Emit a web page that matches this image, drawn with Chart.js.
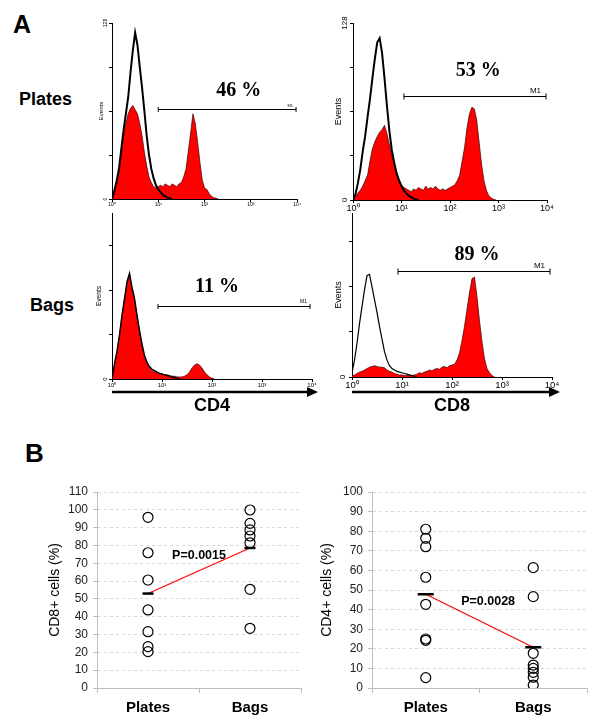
<!DOCTYPE html>
<html>
<head>
<meta charset="utf-8">
<script src="https://cdn.jsdelivr.net/npm/chart.js@4.4.1/dist/chart.umd.min.js"></script>
<style>
  body { margin: 0; background: #fff; }
  #page { position: relative; width: 600px; height: 728px; overflow: hidden; font-family: "Liberation Sans", Arial, sans-serif; }
  canvas { position: absolute; }
  .lbl { position: absolute; font-weight: bold; line-height: 1; color: #000; white-space: nowrap; }
</style>
</head>
<body>
<div id="page">
  <div class="lbl" style="left:13px;top:12px;font-size:25px">A</div>
  <div class="lbl" style="left:19px;top:90px;font-size:18px">Plates</div>
  <div class="lbl" style="left:30px;top:296px;font-size:18px">Bags</div>
  <div class="lbl" style="left:25px;top:440px;font-size:26px">B</div>

  <canvas id="cd4PlatesChart" width="250" height="210" style="left:60px;top:5px"></canvas>
  <canvas id="cd8PlatesChart" width="300" height="215" style="left:300px;top:5px"></canvas>
  <canvas id="cd4BagsChart" width="270" height="215" style="left:60px;top:205px"></canvas>
  <canvas id="cd8BagsChart" width="300" height="215" style="left:300px;top:205px"></canvas>

  <canvas id="cd8PctChart" width="310" height="258" style="left:0px;top:470px"></canvas>
  <canvas id="cd4PctChart" width="300" height="258" style="left:300px;top:470px"></canvas>
</div>

<script>
// ---- panel A: histogram counts, one value per 0.05 decade starting at 10^0 ----
const binStep = 0.05;
const decadeLabels = ['10\u2070', '10\u00b9', '10\u00b2', '10\u00b3', '10\u2074'];

const cd4PlatesCtrl = [0,6,13,22,36,50,62,74,92,108,121,112,96,81,64,46,32,22,15,10,7,5,3,2,1,0.5,0];
const cd4PlatesStain = [0,5,12,20,33,46,55,62,66,68,65,62,55,46,34,24,16,12,9,8,9,10,9,11,10,9,11,10,9,11,12,16,22,35,48,62,55,42,27,14,8,7,4,2,1,0.5,0];

const cd8PlatesCtrl = [0,4,12,22,35,46,60,73,88,102,114,117,106,88,68,50,36,27,19,14,10,7,5,3,2,1,0.5,0];
const cd8PlatesStain = [0,2,5,7,10,14,18,28,37,42,46,49,51,54,48,40,32,26,20,15,11,9,8,7,6,8,7,9,8,7,10,8,9,8,10,8,7,8,7,8,9,10,11,14,18,28,38,52,62,67,66,58,42,26,14,7,3,1.5,0.5,0];

const cd4BagsCtrl = [0,11,20,32,46,58,70,76,66,58,46,35,25,17,12,9,7,6,5,4,3.5,3,2.5,2,1.5,1,0.5,0];
const cd4BagsStain = [0,10,19,31,45,57,68,75,64,57,45,34,24,16,11,8,6,5,5,4,4,3,3,2.5,2,2,1.5,1.5,1.5,2,3,5,8,10,11,10,8,5,3,1.5,0.5,0];

const cd8BagsCtrl = [3,12,24,38,50,62,72,73,64,55,46,36,27,18,12,8,6,5,4,3.5,3,2.5,2,1.5,1,0.5,0];
const cd8BagsStain = [0.5,1.5,2.5,3.5,4,5,6,7,7.5,8,7.5,7,7,6.5,5,4,3.5,2.5,2,1.5,1.5,1,1,1,1,1.5,2,3,2.5,3.5,4,5,4.5,5.5,6,5.5,7,7.5,6.5,8,8.5,9,12,17,26,36,48,60,70,71,57,40,25,13,6,3,1,0];

const gatePercents = ['46 %', '53 %', '11 %', '89 %'];

// ---- panel B: percentages per donor ----
const categories = ['Plates', 'Bags'];
const cd8PlatesPct = [95.8, 75.9, 60.6, 43.8, 31.6, 23.2, 20.4];
const cd8BagsPct = [99.9, 92.4, 88.7, 85.3, 81.5, 55.4, 33.5];
const cd8Means = [53, 78.6];
const cd4PlatesPct = [81, 76.4, 72.1, 56.5, 42.7, 25, 24.3, 5.3];
const cd4BagsPct = [61.4, 46.6, 17.7, 11.7, 10, 8, 5.5, 1.5];
const cd4Means = [47.8, 20.8];
const pValues = ['P=0.0015', 'P=0.0028'];

Chart.defaults.font.family = '"Liberation Sans", Arial, sans-serif';
Chart.defaults.color = '#000';

function toBins(arr) {
  return arr.map((v, i) => ({ x: i * binStep, y: v }));
}

// M1 gate bar, percent text, rotated y end labels and the axis arrow
const gatePlugin = {
  id: 'gate',
  afterDatasetsDraw(chart, args, o) {
    const { ctx, chartArea: a, scales: { x, y } } = chart;
    ctx.save();
    ctx.fillStyle = '#000';
    ctx.strokeStyle = '#000';

    ctx.font = o.yLabelFont;
    o.yLabels.forEach(v => {
      ctx.save();
      ctx.translate(a.left - o.yLabelGap, y.getPixelForValue(v));
      ctx.rotate(-Math.PI / 2);
      ctx.textAlign = 'center';
      ctx.textBaseline = 'bottom';
      ctx.fillText(String(v), 0, 0);
      ctx.restore();
    });

    const x1 = x.getPixelForValue(o.from);
    const x2 = x.getPixelForValue(o.to);
    const yy = Math.round(y.getPixelForValue(o.level)) + 0.5;
    ctx.lineWidth = 1;
    ctx.beginPath();
    ctx.moveTo(x1, yy); ctx.lineTo(x2, yy);
    ctx.moveTo(x1, yy - o.cap); ctx.lineTo(x1, yy + o.cap);
    ctx.moveTo(x2, yy - o.cap); ctx.lineTo(x2, yy + o.cap);
    ctx.stroke();

    ctx.font = o.m1Font;
    ctx.textAlign = 'right';
    ctx.textBaseline = 'bottom';
    ctx.fillText('M1', x2 - o.m1Inset, yy - 2);

    ctx.font = 'bold 20px "Liberation Serif", "Times New Roman", serif';
    ctx.textAlign = 'center';
    ctx.textBaseline = 'middle';
    ctx.fillText(o.pct, x.getPixelForValue(o.pctAt[0]), y.getPixelForValue(o.pctAt[1]));

    if (o.arrow) {
      const ay = a.bottom + o.arrow.dy;
      const tip = a.right + o.arrow.ext;
      ctx.lineWidth = 2.5;
      ctx.beginPath();
      ctx.moveTo(a.left, ay);
      ctx.lineTo(tip - 8, ay);
      ctx.stroke();
      ctx.beginPath();
      ctx.moveTo(tip, ay);
      ctx.lineTo(tip - 11, ay - 5);
      ctx.lineTo(tip - 11, ay + 5);
      ctx.closePath();
      ctx.fill();
    }
    ctx.restore();
  }
};

function histChart(id, ctrl, stain, cfg) {
  return new Chart(document.getElementById(id), {
    type: 'line',
    data: {
      datasets: [
        { data: toBins(ctrl), borderColor: '#000', borderWidth: cfg.ctrlWidth, fill: false, pointRadius: 0, tension: 0 },
        { data: toBins(stain), borderColor: '#3a0000', borderWidth: 0.7, backgroundColor: '#ff0000', fill: 'origin', pointRadius: 0, tension: 0 }
      ]
    },
    options: {
      responsive: false,
      animation: false,
      events: [],
      layout: { padding: cfg.pad },
      plugins: { legend: { display: false }, tooltip: { enabled: false }, gate: cfg.gate },
      scales: {
        x: {
          type: 'linear', min: 0, max: 4,
          afterFit: s => { s.height = cfg.xH; },
          ticks: { stepSize: 1, padding: 0, maxRotation: 0, font: { size: cfg.tickSize }, color: '#000', callback: v => decadeLabels[v] },
          grid: { drawOnChartArea: false, tickLength: 3, color: '#000' },
          border: { color: '#000', width: 1 },
          title: cfg.xTitle
            ? { display: true, text: cfg.xTitle, font: { size: 18, weight: 'bold' }, color: '#000', padding: { top: 0, bottom: cfg.xTitlePad } }
            : { display: false }
        },
        y: {
          min: 0, max: cfg.yMax,
          afterFit: s => { s.width = cfg.yW; },
          ticks: { stepSize: 32, display: false, includeBounds: false },
          grid: { drawOnChartArea: false, tickLength: 3, color: '#000' },
          border: { color: '#000', width: 1 },
          title: { display: true, text: 'Events', font: { size: cfg.evSize }, color: '#000', padding: { top: cfg.evPad, bottom: 0 } }
        }
      }
    },
    plugins: [gatePlugin]
  });
}

histChart('cd4PlatesChart', cd4PlatesCtrl, cd4PlatesStain, {
  pad: { left: 36, top: 18, right: 13, bottom: 4 }, xH: 12, yW: 16, yMax: 128,
  tickSize: 5, evSize: 6, evPad: 2, ctrlWidth: 2,
  gate: { from: 1.0, to: 3.98, level: 65.5, cap: 2.5, m1Font: '4px "Liberation Sans"', m1Inset: 3,
          pct: gatePercents[0], pctAt: [2.74, 78.5], yLabels: [0, 128], yLabelFont: '5px "Liberation Sans"', yLabelGap: 4 }
});

histChart('cd8PlatesChart', cd8PlatesCtrl, cd8PlatesStain, {
  pad: { left: 30, top: 18, right: 53, bottom: 2 }, xH: 18, yW: 23, yMax: 128,
  tickSize: 9, evSize: 9, evPad: 3, ctrlWidth: 2,
  gate: { from: 1.05, to: 3.98, level: 75.2, cap: 3, m1Font: '8px "Liberation Sans"', m1Inset: 5,
          pct: gatePercents[1], pctAt: [2.58, 93.3], yLabels: [0, 128], yLabelFont: '8px "Liberation Sans"', yLabelGap: 4 }
});

histChart('cd4BagsChart', cd4BagsCtrl, cd4BagsStain, {
  pad: { left: 33, top: 8, right: 18, bottom: 0 }, xH: 41, yW: 19, yMax: 119.4,
  tickSize: 6, evSize: 6.5, evPad: 2, ctrlWidth: 1.4, xTitle: 'CD4', xTitlePad: 3,
  gate: { from: 0.92, to: 3.96, level: 52.5, cap: 2.5, m1Font: '5px "Liberation Sans"', m1Inset: 3,
          pct: gatePercents[2], pctAt: [2.1, 66], yLabels: [0], yLabelFont: '6px "Liberation Sans"', yLabelGap: 4,
          arrow: { dy: 13, ext: 6 } }
});

histChart('cd8BagsChart', cd8BagsCtrl, cd8BagsStain, {
  pad: { left: 30, top: 8, right: 48, bottom: 0 }, xH: 43, yW: 22, yMax: 116.6,
  tickSize: 9.5, evSize: 9, evPad: 3, ctrlWidth: 1.2, xTitle: 'CD8', xTitlePad: 3,
  gate: { from: 0.92, to: 3.96, level: 75.4, cap: 3, m1Font: '8px "Liberation Sans"', m1Inset: 5,
          pct: gatePercents[3], pctAt: [2.5, 86.8], yLabels: [0], yLabelFont: '8px "Liberation Sans"', yLabelGap: 5,
          arrow: { dy: 15, ext: 8 } }
});

// p value text between the two groups
const pLabelPlugin = {
  id: 'pLabel',
  afterDatasetsDraw(chart, args, o) {
    const { ctx, scales: { x, y } } = chart;
    ctx.save();
    ctx.font = 'bold 12.5px "Liberation Sans", Arial, sans-serif';
    ctx.fillStyle = '#000';
    ctx.textAlign = 'center';
    ctx.textBaseline = 'middle';
    ctx.fillText(o.text, x.getPixelForValue(o.at[0]), y.getPixelForValue(o.at[1]));
    ctx.restore();
  }
};

function pctChart(id, platesVals, bagsVals, means, cfg) {
  const pts = (cat, vals) => vals.map(v => ({ x: cat, y: v }));
  const meanPts = [{ x: categories[0], y: means[0] }, { x: categories[1], y: means[1] }];
  return new Chart(document.getElementById(id), {
    type: 'scatter',
    data: {
      datasets: [
        { data: meanPts, pointStyle: 'line', pointRadius: cfg.barHalf, borderColor: '#000', pointBorderWidth: 2.5, showLine: false },
        { data: meanPts, showLine: true, borderColor: '#ff0000', borderWidth: 1.2, pointRadius: 0 },
        { data: pts(categories[0], platesVals).concat(pts(categories[1], bagsVals)),
          pointStyle: 'circle', pointRadius: 5, borderColor: '#000', backgroundColor: 'rgba(0,0,0,0)', pointBorderWidth: 1.2 }
      ]
    },
    options: {
      responsive: false,
      animation: false,
      events: [],
      layout: { padding: cfg.pad },
      plugins: { legend: { display: false }, tooltip: { enabled: false }, pLabel: cfg.pLabel },
      scales: {
        x: {
          type: 'category', labels: categories, offset: true,
          afterFit: s => { s.height = 40; },
          ticks: { font: { size: 15, weight: 'bold' }, color: '#000', padding: 6 },
          grid: { offset: true, drawOnChartArea: false, tickLength: 5, color: '#bdbdbd' },
          border: { color: '#bdbdbd' }
        },
        y: {
          min: 0, max: cfg.yMax,
          afterFit: s => { s.width = cfg.yW; },
          ticks: { stepSize: 10, font: { size: 12 }, color: '#222', padding: 5 },
          grid: { color: '#d9d9d9', tickLength: 4, tickColor: '#bdbdbd' },
          border: { color: '#bdbdbd', dash: [3, 3] },
          title: { display: true, text: cfg.title, font: { size: 14 }, color: '#000', padding: { top: 4, bottom: 0 } }
        }
      }
    },
    plugins: [pLabelPlugin]
  });
}

pctChart('cd8PctChart', cd8PlatesPct, cd8BagsPct, cd8Means, {
  pad: { left: 43, top: 22, right: 9, bottom: 0 }, yW: 54, yMax: 110, barHalf: 5.5,
  title: 'CD8+ cells (%)', pLabel: { text: pValues[0], at: [0.5, 74.6] }
});

pctChart('cd4PctChart', cd4PlatesPct, cd4BagsPct, cd4Means, {
  pad: { left: 15, top: 22, right: 13, bottom: 0 }, yW: 57, yMax: 100, barHalf: 8,
  title: 'CD4+ cells (%)', pLabel: { text: pValues[1], at: [0.58, 43.9] }
});
</script>
</body>
</html>
